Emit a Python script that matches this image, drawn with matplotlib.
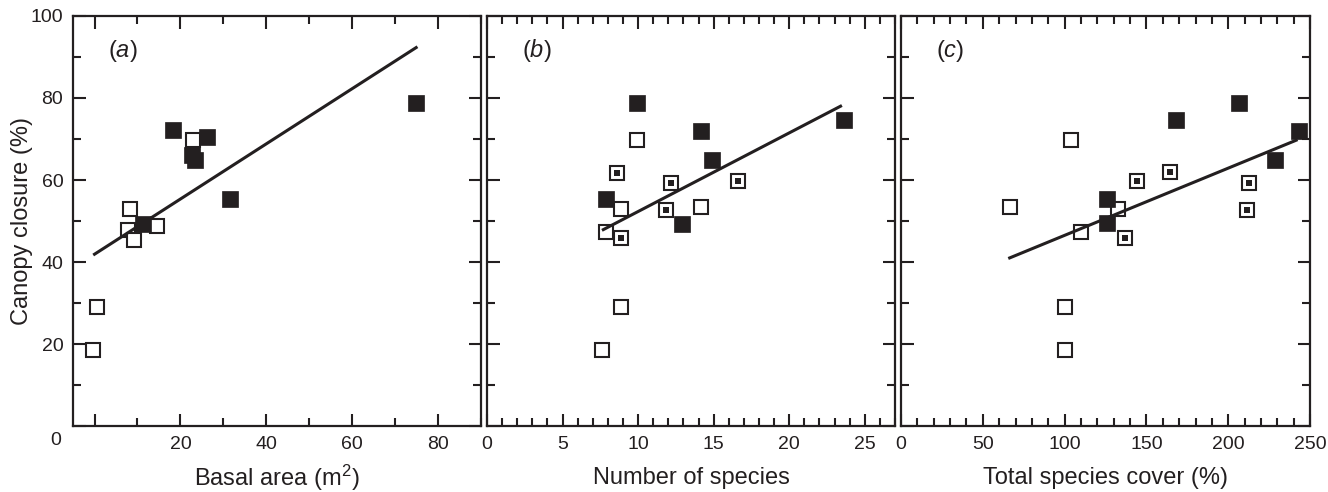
import matplotlib
matplotlib.use("Agg")
import matplotlib.pyplot as plt
from matplotlib.ticker import MultipleLocator

plt.rcParams["font.family"] = ["Liberation Sans", "DejaVu Sans"]
plt.rcParams["mathtext.fontset"] = "custom"
plt.rcParams["mathtext.rm"] = "Liberation Sans"
plt.rcParams["mathtext.it"] = "Liberation Sans:italic"

# --- data ---
# (a) basal area
a_open_x = [-0.3, 0.6, 8.3, 7.9, 9.3, 14.5, 22.9]
a_open_y = [18.5, 29.0, 53.0, 47.7, 45.4, 48.9, 69.8]
a_fill_x = [18.2, 26.2, 22.6, 23.4, 31.6, 11.4, 74.9]
a_fill_y = [72.1, 70.5, 66.2, 64.8, 55.3, 49.2, 78.8]
a_line_x = [0.0, 74.9]
a_line_y = [41.9, 92.3]

# (b) number of species
b_open_x = [9.95, 8.85, 14.15, 7.86, 8.85, 7.64]
b_open_y = [69.8, 53.0, 53.4, 47.3, 29.0, 18.5]
b_fill_x = [9.9, 14.15, 14.9, 7.9, 12.9, 23.6]
b_fill_y = [78.8, 72.0, 65.0, 55.4, 49.2, 74.7]
b_dot_x = [8.63, 12.2, 11.83, 8.85, 16.6]
b_dot_y = [61.7, 59.3, 52.8, 45.9, 59.7]
b_line_x = [7.7, 23.4]
b_line_y = [47.9, 78.0]

# (c) total species cover
c_open_x = [104.0, 66.4, 110.2, 132.5, 100.2, 100.2]
c_open_y = [69.8, 53.4, 47.3, 53.0, 29.0, 18.5]
c_fill_x = [206.6, 168.2, 243.0, 228.8, 125.6, 125.6]
c_fill_y = [78.8, 74.7, 72.0, 64.8, 55.4, 49.5]
c_dot_x = [144.4, 164.5, 212.8, 211.3, 137.0]
c_dot_y = [59.8, 61.9, 59.3, 52.8, 45.9]
c_line_x = [66.4, 241.5]
c_line_y = [41.0, 69.7]

INK = "#231f20"

fig = plt.figure(figsize=(13.28, 4.92), dpi=100)
bottom, height = 0.1341, 0.8334
ax_a = fig.add_axes([0.0550, bottom, 0.3072, height])
ax_b = fig.add_axes([0.3667, bottom, 0.3072, height])
ax_c = fig.add_axes([0.6785, bottom, 0.3080, height])


def draw(ax, ox, oy, fx, fy, lx, ly, dx=None, dy=None):
    ax.plot(ox, oy, "s", ls="none", ms=10.5, mfc="white", mec=INK, mew=1.5, zorder=2)
    if dx is not None:
        ax.plot(dx, dy, "s", ls="none", ms=10.5, mfc="white", mec=INK, mew=1.5, zorder=2)
        ax.plot(dx, dy, "s", ls="none", ms=4, mfc=INK, mec=INK, mew=0, zorder=2.1)
    ax.plot(lx, ly, "-", color=INK, lw=2.2, zorder=3)
    ax.plot(fx, fy, "s", ls="none", ms=12, mfc=INK, mec=INK, mew=0.5, zorder=4)


draw(ax_a, a_open_x, a_open_y, a_fill_x, a_fill_y, a_line_x, a_line_y)
draw(ax_b, b_open_x, b_open_y, b_fill_x, b_fill_y, b_line_x, b_line_y, b_dot_x, b_dot_y)
draw(ax_c, c_open_x, c_open_y, c_fill_x, c_fill_y, c_line_x, c_line_y, c_dot_x, c_dot_y)

ax_a.set_xlim(-5, 90)
ax_b.set_xlim(0, 27)
ax_c.set_xlim(0, 250)
for ax, maj, mn in [(ax_a, 20, 10), (ax_b, 5, 1), (ax_c, 50, 10)]:
    ax.set_ylim(0, 100)
    ax.xaxis.set_major_locator(MultipleLocator(maj))
    ax.xaxis.set_minor_locator(MultipleLocator(mn))
    ax.yaxis.set_major_locator(MultipleLocator(20))
    ax.yaxis.set_minor_locator(MultipleLocator(10))
    ax.tick_params(which="both", direction="in", top=True, right=True,
                   color=INK, width=1.5, labelsize=14, labelcolor=INK, pad=7)
    ax.tick_params(which="major", length=9)
    ax.tick_params(which="minor", length=5.5)
    for s in ax.spines.values():
        s.set_linewidth(1.6)
        s.set_color(INK)

ax_a.set_xticks([0, 20, 40, 60, 80])
ax_a.set_xticklabels(["", "20", "40", "60", "80"])
ax_a.set_yticks([0, 20, 40, 60, 80, 100])
ax_a.set_yticklabels(["", "20", "40", "60", "80", "100"])
ax_a.text(-0.03, -0.035, "0", transform=ax_a.transAxes, ha="right", va="center",
          fontsize=14, color=INK)
ax_b.tick_params(labelleft=False)
ax_c.tick_params(labelleft=False)

ax_a.set_ylabel("Canopy closure (%)", fontsize=17, color=INK, labelpad=-2)
ax_a.set_xlabel("Basal area (m$^2$)", fontsize=17, color=INK, labelpad=7)
ax_b.set_xlabel("Number of species", fontsize=17, color=INK, labelpad=10.5)
ax_c.set_xlabel("Total species cover (%)", fontsize=17, color=INK, labelpad=10.5)

for ax, letter in [(ax_a, "a"), (ax_b, "b"), (ax_c, "c")]:
    ax.text(0.085, 0.915, "($\\mathit{%s}$)" % letter, transform=ax.transAxes,
            fontsize=17, color=INK, ha="left", va="center")

fig.savefig("out.png", dpi=100)
